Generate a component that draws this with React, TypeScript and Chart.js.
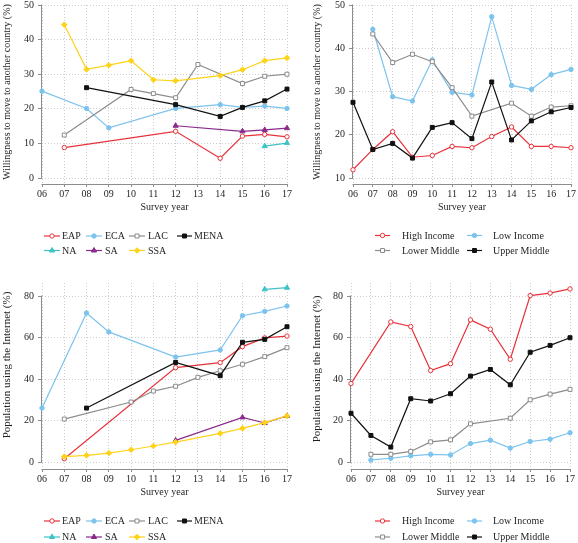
import React, { useEffect, useRef } from "react";
import { Chart, registerables } from "chart.js";

Chart.register(...registerables);

const FONT_FAMILY = "'Liberation Serif', 'Times New Roman', Times, serif";
Chart.defaults.font.family = FONT_FAMILY;
Chart.defaults.font.size = 10;

const TEXT = "#1e1e1e";
const AXIS = "#8c8c8c";
const GRID = "#cdcdcd";

const RED = "#e8323a";
const LTBLUE = "#7cc3ee";
const GRAY = "#8c8c8c";
const BLACK = "#111111";
const TEAL = "#3fc3c6";
const PURPLE = "#8a2a8c";
const YELLOW = "#ffd21a";

// ---------- data ----------
const years = [6, 7, 8, 9, 10, 11, 12, 13, 14, 15, 16, 17];
const yearLabels = ["06", "07", "08", "09", "10", "11", "12", "13", "14", "15", "16", "17"];

const regionLabels = ["EAP", "ECA", "LAC", "MENA", "NA", "SA", "SSA"];
const incomeLabels = ["High Income", "Low Income", "Lower Middle", "Upper Middle"];

const willTicks = [0, 10, 20, 30, 40, 50];
const willIncTicks = [10, 20, 30, 40, 50];
const netTicks = [0, 20, 40, 60, 80];

// Willingness to move, by region
const willEAP = [null, 8.8, null, null, null, null, 13.5, null, 5.7, 12.1, 12.6, 11.9];
const willECA = [25.1, null, 20.1, 14.5, null, null, 20.1, null, 21.2, 20.4, 20.8, 20.1];
const willLAC = [null, 12.4, null, null, 25.6, 24.4, 23.2, 32.8, null, 27.3, 29.4, 30.0];
const willMENA = [null, null, 26.1, null, null, null, 21.2, null, 17.8, 20.4, 22.3, 25.7];
const willNA = [null, null, null, null, null, null, null, null, null, null, 9.2, 10.1];
const willSA = [null, null, null, null, null, null, 15.1, null, null, 13.5, 13.9, 14.4];
const willSSA = [null, 44.3, 31.4, 32.6, 33.9, 28.4, 28.1, null, 29.6, 31.3, 33.9, 34.7];

// Willingness to move, by income
const willHigh = [11.9, 16.6, 20.7, 14.8, 15.2, 17.3, 17.0, 19.6, 21.8, 17.3, 17.3, 17.0];
const willLow = [null, 44.4, 28.8, 27.8, 37.3, 29.8, 29.2, 47.3, 31.4, 30.5, 33.9, 35.1];
const willLowerMid = [null, 43.3, 36.7, 38.6, 36.9, 30.9, 24.3, null, 27.3, 24.3, 26.4, 26.7];
const willUpperMid = [27.5, 16.6, 18.0, 14.6, 21.7, 22.8, 19.1, 32.2, 18.8, 23.2, 25.3, 26.3];

// Internet use, by region
const netEAP = [null, 1.6, null, null, null, null, 45.5, null, 47.9, 55.6, 59.8, 60.7];
const netECA = [26.0, null, 71.8, 62.7, null, null, 50.6, null, 54.0, 70.5, 72.6, 75.2];
const netLAC = [null, 20.7, null, null, 28.9, 34.2, 36.5, 40.8, 44.0, 47.1, 50.8, 55.1];
const netMENA = [null, null, 26.0, null, null, null, 48.0, null, 41.6, 57.7, 59.1, 65.2];
const netNA = [null, null, null, null, null, null, null, null, null, null, 83.2, 84.0];
const netSA = [null, null, null, null, null, null, 10.4, null, null, 21.5, 18.8, 22.2];
const netSSA = [null, 2.6, 3.2, 4.3, 5.9, 7.7, 9.6, null, 13.8, 16.2, 19.0, 22.2];

// Internet use, by income
const netHigh = [37.8, null, 67.5, 65.3, 44.1, 47.4, 68.5, 64.0, 49.5, 80.2, 81.4, 83.4];
const netLow = [null, 1.0, 1.8, 3.0, 3.7, 3.4, 8.9, 10.5, 6.7, 9.9, 11.0, 14.1];
const netLowerMid = [null, 3.7, 3.7, 5.1, 9.7, 10.7, 18.4, null, 21.1, 30.0, 32.7, 35.0];
const netUpperMid = [23.5, 12.8, 7.2, 30.5, 29.4, 32.9, 41.4, 44.6, 37.2, 52.9, 56.2, 59.9];

// ---------- styles ----------
type PStyle = "circle" | "rect" | "triangle" | "rectRot";
interface Look { color: string; style: PStyle; hollow: boolean; radius: number }

const lookRed: Look = { color: RED, style: "circle", hollow: true, radius: 2.2 };
const lookBlue: Look = { color: LTBLUE, style: "circle", hollow: false, radius: 2.2 };
const lookGray: Look = { color: GRAY, style: "rect", hollow: true, radius: 2.8 };
const lookBlack: Look = { color: BLACK, style: "rect", hollow: false, radius: 2.8 };
const lookTeal: Look = { color: TEAL, style: "triangle", hollow: false, radius: 3 };
const lookPurple: Look = { color: PURPLE, style: "triangle", hollow: false, radius: 3 };
const lookYellow: Look = { color: YELLOW, style: "rectRot", hollow: false, radius: 2.8 };

interface Series { label: string; data: (number | null)[]; look: Look }
interface LegendSlot { x1: number; x2: number; tx: number; y: number }

interface PanelSpec {
  left: number; top: number; width: number; height: number;
  padding: { left: number; top: number; right: number; bottom: number };
  yWidth: number; xHeight: number;
  yMin: number; yMax: number; yTicks: number[];
  yTitle: string; yTitleX: number; yTitleY: number; yTitleSize: number;
  series: Series[];
  legend: LegendSlot[];
}

const regionLooks = [lookRed, lookBlue, lookGray, lookBlack, lookTeal, lookPurple, lookYellow];
const incomeLooks = [lookRed, lookBlue, lookGray, lookBlack];

const regionLegend = (r1: number, r2: number): LegendSlot[] => [
  { x1: 44, x2: 60, tx: 62, y: r1 },
  { x1: 86, x2: 102, tx: 105, y: r1 },
  { x1: 129, x2: 145, tx: 148, y: r1 },
  { x1: 177, x2: 192, tx: 194, y: r1 },
  { x1: 44, x2: 60, tx: 62, y: r2 },
  { x1: 86, x2: 102, tx: 105, y: r2 },
  { x1: 129, x2: 145, tx: 148, y: r2 },
];
const incomeLegend = (r1: number, r2: number): LegendSlot[] => [
  { x1: 83, x2: 98, tx: 110, y: r1 },
  { x1: 175, x2: 190, tx: 201, y: r1 },
  { x1: 83, x2: 98, tx: 110, y: r2 },
  { x1: 175, x2: 190, tx: 201, y: r2 },
];

const mk = (labels: string[], looks: Look[], arrs: (number | null)[][]): Series[] =>
  arrs.map((d, i) => ({ label: labels[i], data: d, look: looks[i] }));

const panels: PanelSpec[] = [
  {
    left: 0, top: 0, width: 300, height: 265,
    padding: { left: 0, top: 5, right: 13, bottom: 52 },
    yWidth: 42, xHeight: 29,
    yMin: -1.734, yMax: 50, yTicks: willTicks,
    yTitle: "Willingness to move to another country (%)", yTitleX: 7.5, yTitleY: 92, yTitleSize: 10,
    series: mk(regionLabels, regionLooks, [willEAP, willECA, willLAC, willMENA, willNA, willSA, willSSA]),
    legend: regionLegend(236, 250.5),
  },
  {
    left: 292, top: 0, width: 286, height: 265,
    padding: { left: 18, top: 5, right: 7, bottom: 52 },
    yWidth: 43, xHeight: 29,
    yMin: 8.613, yMax: 50, yTicks: willIncTicks,
    yTitle: "Willingness to move to another country (%)", yTitleX: 25, yTitleY: 92, yTitleSize: 10,
    series: mk(incomeLabels, incomeLooks, [willHigh, willLow, willLowerMid, willUpperMid]),
    legend: incomeLegend(235.5, 250.5),
  },
  {
    left: 0, top: 268, width: 300, height: 275,
    padding: { left: 0, top: 15, right: 13, bottom: 45 },
    yWidth: 42, xHeight: 29,
    yMin: -3.37, yMax: 86.27, yTicks: netTicks,
    yTitle: "Population using the Internet (%)", yTitleX: 7, yTitleY: 97, yTitleSize: 11,
    series: mk(regionLabels, regionLooks, [netEAP, netECA, netLAC, netMENA, netNA, netSA, netSSA]),
    legend: regionLegend(253, 269),
  },
  {
    left: 292, top: 268, width: 286, height: 275,
    padding: { left: 18, top: 15, right: 8, bottom: 45 },
    yWidth: 41, xHeight: 29,
    yMin: -3.37, yMax: 86.27, yTicks: netTicks,
    yTitle: "Population using the Internet (%)", yTitleX: 25, yTitleY: 101, yTitleSize: 11,
    series: mk(incomeLabels, incomeLooks, [netHigh, netLow, netLowerMid, netUpperMid]),
    legend: incomeLegend(253, 269),
  },
];

// ---------- drawing helpers ----------
function drawMarker(ctx: CanvasRenderingContext2D, look: Look, x: number, y: number) {
  const r = look.radius;
  ctx.beginPath();
  if (look.style === "circle") {
    ctx.arc(x, y, r, 0, Math.PI * 2);
  } else if (look.style === "rect") {
    const s = r * Math.SQRT1_2;
    ctx.rect(x - s, y - s, 2 * s, 2 * s);
  } else if (look.style === "rectRot") {
    ctx.moveTo(x - r, y);
    ctx.lineTo(x, y - r);
    ctx.lineTo(x + r, y);
    ctx.lineTo(x, y + r);
    ctx.closePath();
  } else {
    for (let k = 0; k < 3; k++) {
      const a = (k * 2 * Math.PI) / 3;
      const px = x + Math.sin(a) * r;
      const py = y - Math.cos(a) * r;
      if (k === 0) ctx.moveTo(px, py);
      else ctx.lineTo(px, py);
    }
    ctx.closePath();
  }
  ctx.fillStyle = look.hollow ? "#ffffff" : look.color;
  ctx.fill();
  ctx.lineWidth = 1;
  ctx.strokeStyle = look.color;
  ctx.stroke();
}

function makePlugin(spec: PanelSpec) {
  return {
    id: "stataFrame",
    beforeDatasetsDraw(chart: any) {
      const { ctx, chartArea: ca, scales } = chart;
      const xs = scales.x;
      const ys = scales.y;
      ctx.save();
      ctx.strokeStyle = AXIS;
      ctx.lineWidth = 1;
      ctx.setLineDash([]);
      ctx.beginPath();
      const lx = Math.round(ca.left) - 0.5;
      ctx.moveTo(lx, ys.getPixelForValue(spec.yTicks[spec.yTicks.length - 1]) - 0.5);
      ctx.lineTo(lx, ys.getPixelForValue(spec.yTicks[0]) + 0.5);
      const by = Math.round(ca.bottom) + 0.5;
      ctx.moveTo(xs.getPixelForValue(years[0]) - 0.5, by);
      ctx.lineTo(xs.getPixelForValue(years[years.length - 1]) + 0.5, by);
      ctx.stroke();
      ctx.restore();
    },
    afterDraw(chart: any) {
      const ctx: CanvasRenderingContext2D = chart.ctx;
      ctx.save();
      // y-axis title
      ctx.save();
      ctx.translate(spec.yTitleX, spec.yTitleY);
      ctx.rotate(-Math.PI / 2);
      ctx.font = `${spec.yTitleSize}px ${FONT_FAMILY}`;
      ctx.fillStyle = TEXT;
      ctx.textAlign = "center";
      ctx.textBaseline = "middle";
      ctx.fillText(spec.yTitle, 0, 0);
      ctx.restore();
      // legend
      ctx.font = `10px ${FONT_FAMILY}`;
      ctx.textBaseline = "middle";
      ctx.textAlign = "left";
      spec.series.forEach((s, i) => {
        const slot = spec.legend[i];
        if (!slot) return;
        ctx.beginPath();
        ctx.strokeStyle = s.look.color;
        ctx.lineWidth = 1.2;
        ctx.moveTo(slot.x1, slot.y);
        ctx.lineTo(slot.x2, slot.y);
        ctx.stroke();
        drawMarker(ctx, s.look, (slot.x1 + slot.x2) / 2, slot.y);
        ctx.fillStyle = TEXT;
        ctx.fillText(s.label, slot.tx, slot.y + 0.5);
      });
      ctx.restore();
    },
  };
}

function Panel({ spec }: { spec: PanelSpec }) {
  const ref = useRef<HTMLCanvasElement | null>(null);
  useEffect(() => {
    if (!ref.current) return;
    const datasets = spec.series.map((s, i) => ({
      label: s.label,
      data: years.map((yr, j) => ({ x: yr, y: s.data[j] })),
      borderColor: s.look.color,
      backgroundColor: s.look.hollow ? "#ffffff" : s.look.color,
      pointBorderColor: s.look.color,
      pointBackgroundColor: s.look.hollow ? "#ffffff" : s.look.color,
      pointStyle: s.look.style,
      pointRadius: s.look.radius,
      pointBorderWidth: 1,
      borderWidth: 1.2,
      spanGaps: true,
      tension: 0,
      clip: false,
      order: -i,
    }));
    const chart = new Chart(ref.current, {
      type: "line",
      data: { datasets: datasets as any },
      plugins: [makePlugin(spec) as any],
      options: {
        animation: false,
        responsive: false,
        maintainAspectRatio: false,
        events: [],
        layout: { padding: spec.padding },
        plugins: {
          legend: { display: false },
          tooltip: { enabled: false },
          title: { display: false },
        },
        scales: {
          x: {
            type: "linear",
            min: years[0],
            max: years[years.length - 1],
            afterBuildTicks: (s: any) => {
              s.ticks = years.map((v) => ({ value: v }));
            },
            afterFit: (s: any) => {
              s.height = spec.xHeight;
              s.paddingLeft = 0;
              s.paddingRight = 0;
            },
            ticks: {
              autoSkip: false,
              maxRotation: 0,
              minRotation: 0,
              padding: 1,
              color: TEXT,
              font: { size: 10 },
              callback: (v: any) => {
                const i = years.indexOf(Number(v));
                return i >= 0 ? yearLabels[i] : "";
              },
            },
            grid: { color: GRID, lineWidth: 1, drawTicks: true, tickLength: 3, tickColor: AXIS, tickWidth: 1 },
            border: { display: false, dash: [1, 2] },
            title: { display: true, text: "Survey year", color: TEXT, font: { size: 10 }, padding: 0 },
          },
          y: {
            type: "linear",
            min: spec.yMin,
            max: spec.yMax,
            afterBuildTicks: (s: any) => {
              s.ticks = spec.yTicks.map((v) => ({ value: v }));
            },
            afterFit: (s: any) => {
              s.width = spec.yWidth;
              s.paddingTop = 0;
              s.paddingBottom = 0;
            },
            ticks: { padding: 4, color: TEXT, font: { size: 10 }, callback: (v: any) => String(v) },
            grid: { color: GRID, lineWidth: 1, drawTicks: true, tickLength: 4, tickColor: AXIS, tickWidth: 1 },
            border: { display: false, dash: [1, 2] },
            title: { display: false },
          },
        },
      } as any,
    });
    return () => chart.destroy();
  }, [spec]);
  return (
    <canvas
      ref={ref}
      width={spec.width}
      height={spec.height}
      style={{ position: "absolute", left: spec.left, top: spec.top, width: spec.width, height: spec.height }}
    />
  );
}

export default function App() {
  return (
    <div style={{ position: "absolute", left: 0, top: 0, width: 578, height: 543, background: "#ffffff", overflow: "hidden" }}>
      {panels.map((p, i) => (
        <Panel key={i} spec={p} />
      ))}
    </div>
  );
}
